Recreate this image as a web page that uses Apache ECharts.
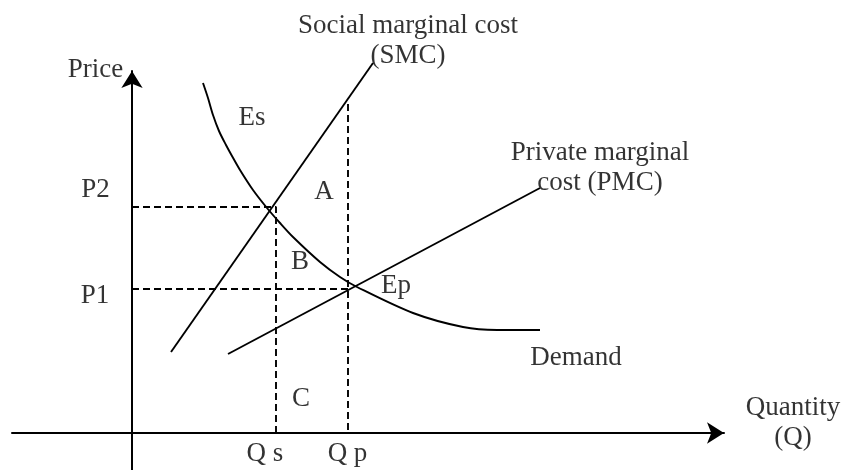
<!DOCTYPE html>
<html lang="en">
<head>
    <meta charset="UTF-8">
    <title>Externality - SMC vs PMC</title>
    <style>
        html, body { margin: 0; padding: 0; background: #fff; }
    </style>
</head>
<body>
<div id="main" style="width: 841px;height:470px;"></div>
<script src="https://cdn.jsdelivr.net/npm/echarts@6/dist/echarts.min.js"></script>
<script>
    // curves, in chart units (quantity, price)
    var smc = [[3.9, 8.1], [24.1, 37.0]];
    var pmc = [[9.6, 7.9], [40.8, 24.5]];
    var demand = [
        [7.1, 35.0], [7.6, 33.5], [8.1, 31.8], [8.7, 30.2], [9.4, 28.8],
        [10.0, 27.7], [10.8, 26.3], [12.1, 24.3], [13.5, 22.5], [14.8, 21.0],
        [16.1, 19.6], [18.8, 17.1], [20.8, 15.6], [22.5, 14.6], [28.1, 12.0],
        [33.1, 10.6], [36.5, 10.3], [40.8, 10.3]
    ];

    // equilibrium levels
    var qs = 14.4, qp = 21.6;
    var p2 = 22.6, p1 = 14.4;
    var qpTop = 32.9;

    // text notes and where they sit
    var notes = [
        ['Social marginal cost\n(SMC)', 27.6, 39.2],
        ['Price', -3.65, 36.3],
        ['Es', 12.0, 31.5],
        ['P2', -3.65, 24.3],
        ['A', 19.2, 24.1],
        ['B', 16.8, 17.1],
        ['Ep', 26.4, 14.7],
        ['P1', -3.7, 13.7],
        ['C', 16.9, 3.4],
        ['Q s', 13.3, -2.1],
        ['Q p', 21.55, -2.1],
        ['Private marginal\ncost (PMC)', 46.8, 26.5],
        ['Demand', 44.4, 7.5],
        ['Quantity\n(Q)', 66.1, 1.0]
    ];

    var myChart = echarts.init(document.getElementById('main'));

    var solid = { color: '#000', width: 1.9 };
    var dashed = { color: '#000', width: 1.9, type: [7, 4] };

    function lineSeries(data, style, smooth) {
        return {
            type: 'line',
            data: data,
            smooth: smooth || false,
            showSymbol: false,
            symbol: 'none',
            clip: false,
            silent: true,
            lineStyle: style
        };
    }

    var option = {
        backgroundColor: '#fff',
        animation: false,
        textStyle: { fontFamily: 'Liberation Serif' },
        grid: { left: 12, right: 117, top: 71, bottom: 0 },
        xAxis: {
            type: 'value',
            min: -12,
            max: 59.2,
            splitLine: { show: false },
            axisTick: { show: false },
            axisLabel: { show: false },
            axisLine: {
                show: true,
                onZero: true,
                symbol: ['none', 'arrow'],
                symbolSize: [16, 17],
                lineStyle: { color: '#000', width: 2 }
            }
        },
        yAxis: {
            type: 'value',
            min: -3.7,
            max: 36.2,
            splitLine: { show: false },
            axisTick: { show: false },
            axisLabel: { show: false },
            axisLine: {
                show: true,
                onZero: true,
                symbol: ['none', 'arrow'],
                symbolSize: [16, 17],
                lineStyle: { color: '#000', width: 2 }
            }
        },
        series: [
            lineSeries([[0, p2], [qs, p2], [qs, 0]], dashed),
            lineSeries([[0, p1], [qp, p1]], dashed),
            lineSeries([[qp, qpTop], [qp, 0]], dashed),
            lineSeries(smc, solid),
            lineSeries(pmc, solid),
            lineSeries(demand, solid, 0.3),
            {
                type: 'scatter',
                symbolSize: 0,
                clip: false,
                silent: true,
                data: notes.map(function (n) {
                    return { name: n[0], value: [n[1], n[2]] };
                }),
                label: {
                    show: true,
                    position: 'inside',
                    formatter: function (p) { return p.name; },
                    fontFamily: 'Liberation Serif',
                    fontSize: 27,
                    lineHeight: 30,
                    color: '#000',
                    align: 'center',
                    verticalAlign: 'middle'
                }
            }
        ]
    };

    myChart.setOption(option);
</script>
</body>
</html>
